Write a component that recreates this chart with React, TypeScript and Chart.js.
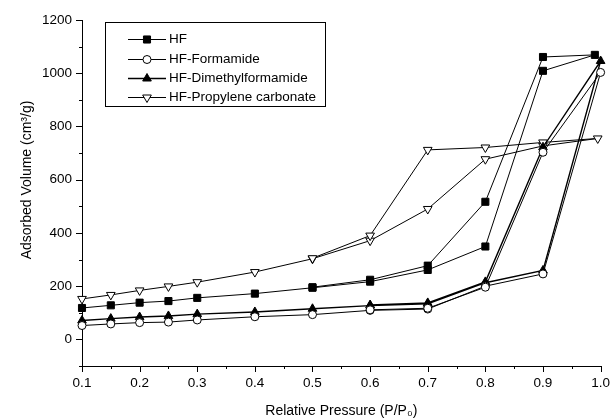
import React, { useEffect, useRef } from "react";
import { Chart, registerables } from "chart.js";

Chart.register(...registerables);

// ---- data ----
const xTicks = [0.1, 0.2, 0.3, 0.4, 0.5, 0.6, 0.7, 0.8, 0.9, 1.0];
const yTicks = [0, 200, 400, 600, 800, 1000, 1200];

const seriesNames = ["HF", "HF-Formamide", "HF-Dimethylformamide", "HF-Propylene carbonate"];

// HF (filled squares)
const hfAdsP = [0.1, 0.15, 0.2, 0.25, 0.3, 0.4, 0.5, 0.6, 0.7, 0.8, 0.9, 0.99];
const hfAdsV = [118, 128, 138, 144, 156, 172, 194, 217, 261, 349, 1009, 1069];
const hfDesP = [0.9, 0.8, 0.7, 0.6, 0.5];
const hfDesV = [1061, 517, 277, 224, 196];

// HF-Formamide (open circles)
const faAdsP = [0.1, 0.15, 0.2, 0.25, 0.3, 0.4, 0.5, 0.6, 0.7, 0.8, 0.9, 1.0];
const faAdsV = [52, 58, 63, 65, 73, 85, 93, 109, 114, 200, 246, 1003];
const faDesP = [0.9, 0.8, 0.7, 0.6];
const faDesV = [703, 196, 117, 111];

// HF-Dimethylformamide (filled up-triangles)
const dmAdsP = [0.1, 0.15, 0.2, 0.25, 0.3, 0.4, 0.5, 0.6, 0.7, 0.8, 0.9, 1.0];
const dmAdsV = [71, 78, 84, 88, 95, 103, 115, 127, 134, 213, 259, 1046];
const dmDesP = [0.9, 0.8, 0.7, 0.6];
const dmDesV = [722, 216, 137, 129];

// HF-Propylene carbonate (open down-triangles)
const pcAdsP = [0.1, 0.15, 0.2, 0.25, 0.3, 0.4, 0.5, 0.6, 0.7, 0.8, 0.9, 0.995];
const pcAdsV = [152, 167, 184, 199, 215, 253, 303, 371, 490, 677, 727, 755];
const pcDesP = [0.9, 0.8, 0.7, 0.6, 0.5];
const pcDesV = [740, 721, 712, 390, 305];

const zip = (p: number[], v: number[]) => p.map((x, i) => ({ x, y: v[i] }));

const FONT = "'Liberation Sans', Arial, sans-serif";

const styles = [
  { pointStyle: "rect", radius: 5, fill: "#000", rotation: 0, width: 1 },
  { pointStyle: "circle", radius: 4, fill: "#fff", rotation: 0, width: 1 },
  { pointStyle: "triangle", radius: 5, fill: "#000", rotation: 0, width: 1.4 },
  { pointStyle: "triangle", radius: 5, fill: "#fff", rotation: 180, width: 1 },
];

function drawMarker(ctx: CanvasRenderingContext2D, i: number, x: number, y: number) {
  const s = styles[i];
  ctx.save();
  ctx.fillStyle = s.fill;
  ctx.strokeStyle = "#000";
  ctx.lineWidth = 1;
  ctx.beginPath();
  if (s.pointStyle === "rect") {
    const h = s.radius * Math.SQRT1_2;
    ctx.rect(x - h, y - h, 2 * h, 2 * h);
  } else if (s.pointStyle === "circle") {
    ctx.arc(x, y, s.radius, 0, Math.PI * 2);
  } else {
    let rad = (s.rotation * Math.PI) / 180;
    ctx.moveTo(x + Math.sin(rad) * s.radius, y - Math.cos(rad) * s.radius);
    for (let k = 0; k < 2; k++) {
      rad += (2 * Math.PI) / 3;
      ctx.lineTo(x + Math.sin(rad) * s.radius, y - Math.cos(rad) * s.radius);
    }
    ctx.closePath();
  }
  ctx.fill();
  ctx.stroke();
  ctx.restore();
}

const overlay = {
  id: "overlay",
  afterDraw(chart: any) {
    const { ctx, chartArea, scales } = chart;
    const xs = scales.x;
    const ys = scales.y;
    ctx.save();
    ctx.strokeStyle = "#000";
    ctx.lineWidth = 1;
    // y ticks (major 200, minor 100)
    for (let v = -100; v <= 1200; v += 100) {
      const py = Math.round(ys.getPixelForValue(v)) + 0.5;
      const len = v % 200 === 0 ? 6 : 3;
      ctx.beginPath();
      ctx.moveTo(chartArea.left - len, py);
      ctx.lineTo(chartArea.left, py);
      ctx.stroke();
    }
    // x ticks (major 0.1, minor 0.05)
    for (let k = 2; k <= 20; k++) {
      const v = k * 0.05;
      const px = Math.round(xs.getPixelForValue(v)) + 0.5;
      const len = k % 2 === 0 ? 6 : 3;
      ctx.beginPath();
      ctx.moveTo(px, chartArea.bottom);
      ctx.lineTo(px, chartArea.bottom + len);
      ctx.stroke();
    }
    // y title
    ctx.save();
    ctx.translate(27, 180);
    ctx.rotate(-Math.PI / 2);
    ctx.fillStyle = "#000";
    ctx.font = `14px ${FONT}`;
    ctx.textAlign = "center";
    ctx.textBaseline = "middle";
    ctx.fillText("Adsorbed Volume (cm³/g)", 0, 0);
    ctx.restore();
    // legend box
    const bx = 105, by = 22, bw = 220, bh = 84;
    ctx.strokeRect(bx + 0.5, by + 0.5, bw, bh);
    const rowY = [39, 59, 78, 97];
    ctx.font = `13.5px ${FONT}`;
    ctx.fillStyle = "#000";
    ctx.textAlign = "left";
    ctx.textBaseline = "middle";
    seriesNames.forEach((name, i) => {
      const yy = rowY[i] + 0.5;
      ctx.beginPath();
      ctx.lineWidth = styles[i].width;
      ctx.moveTo(128, yy);
      ctx.lineTo(166, yy);
      ctx.stroke();
      drawMarker(ctx, i, 147, yy);
      ctx.fillStyle = "#000";
      ctx.fillText(name, 169, yy);
    });
    ctx.restore();
  },
};

export default function App() {
  const ref = useRef<HTMLCanvasElement | null>(null);
  useEffect(() => {
    if (!ref.current) return;
    const dataSets = [
      [...zip(hfAdsP, hfAdsV), ...zip(hfDesP, hfDesV)],
      [...zip(faAdsP, faAdsV), ...zip(faDesP, faDesV)],
      [...zip(dmAdsP, dmAdsV), ...zip(dmDesP, dmDesV)],
      [...zip(pcAdsP, pcAdsV), ...zip(pcDesP, pcDesV)],
    ];
    const chart = new Chart(ref.current, {
      type: "line",
      data: {
        datasets: dataSets.map((d, i) => ({
          label: seriesNames[i],
          data: d,
          borderColor: "#000",
          borderWidth: styles[i].width,
          tension: 0,
          pointStyle: styles[i].pointStyle as any,
          pointRadius: styles[i].radius,
          pointRotation: styles[i].rotation,
          pointBackgroundColor: styles[i].fill,
          pointBorderColor: "#000",
          pointBorderWidth: 1,
          clip: 12,
        })),
      },
      options: {
        responsive: false,
        animation: false,
        devicePixelRatio: 1,
        layout: { padding: { top: 20, right: 12, left: 0, bottom: 0 } },
        plugins: { legend: { display: false }, tooltip: { enabled: false } },
        scales: {
          x: {
            type: "linear",
            min: 0.1,
            max: 1.0,
            afterBuildTicks: (s: any) => {
              s.ticks = xTicks.map((v) => ({ value: v }));
            },
            afterFit: (s: any) => {
              s.height = 52;
            },
            grid: { drawOnChartArea: false, drawTicks: true, tickLength: 6, tickColor: "rgba(0,0,0,0)" },
            border: { display: true, color: "#000", width: 1 },
            ticks: {
              color: "#000",
              font: { family: FONT, size: 13.5 },
              padding: 3,
              maxRotation: 0,
              autoSkip: false,
              callback: (v: any) => Number(v).toFixed(1),
            },
            title: {
              display: true,
              text: "Relative Pressure (P/P₀)",
              color: "#000",
              font: { family: FONT, size: 14, lineHeight: 1 },
              padding: { top: 0, bottom: 0 },
            },
          },
          y: {
            type: "linear",
            min: -100,
            max: 1200,
            afterBuildTicks: (s: any) => {
              s.ticks = yTicks.map((v) => ({ value: v }));
            },
            afterFit: (s: any) => {
              s.width = 82;
            },
            grid: { drawOnChartArea: false, drawTicks: true, tickLength: 6, tickColor: "rgba(0,0,0,0)" },
            border: { display: true, color: "#000", width: 1 },
            ticks: {
              color: "#000",
              font: { family: FONT, size: 13.5 },
              padding: 4,
              autoSkip: false,
              callback: (v: any) => String(v),
            },
          },
        },
      },
      plugins: [overlay],
    });
    return () => chart.destroy();
  }, []);
  return (
    <div style={{ position: "fixed", left: 0, top: 0, width: 613, height: 418, background: "#fff" }}>
      <canvas ref={ref} width={613} height={418} style={{ display: "block" }} />
    </div>
  );
}
